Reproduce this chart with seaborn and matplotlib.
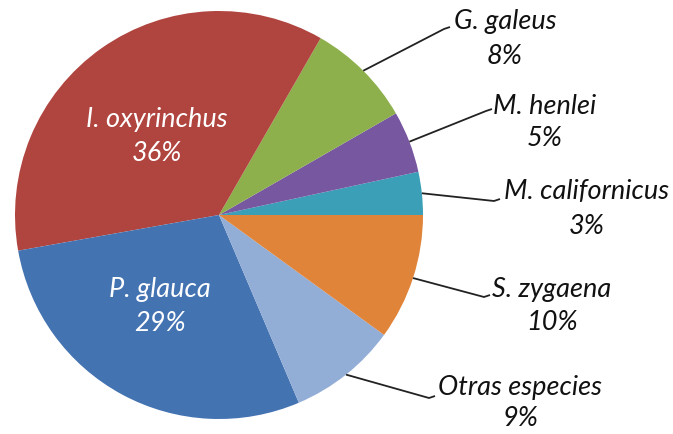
import numpy as np
import matplotlib
matplotlib.use('Agg')
import matplotlib.pyplot as plt
import seaborn as sns

sns.set_theme(style='white')
plt.rcParams['font.family'] = ['Lato', 'DejaVu Sans']

# data, counterclockwise from 3 o'clock (share in %)
species = ['M. californicus', 'M. henlei', 'G. galeus', 'I. oxyrinchus',
           'P. glauca', 'Otras especies', 'S. zygaena']
share = [3.4, 4.9, 8.4, 36.1, 28.6, 8.6, 10.0]
colors = ['#3B9FB8', '#7657A0', '#8DB04D', '#B0443F', '#4473B2', '#93AED6', '#E0843A']

# label layout (pixel coords, y down): name position, leader end, gap to % line
inside = {'I. oxyrinchus': (157, 120), 'P. glauca': (160, 290)}
outside = {
    'G. galeus': ((505, 22), (450, 28), 35),
    'M. henlei': ((545, 107), (492, 110), 32),
    'M. californicus': ((587, 192), (500, 200), 35),
    'S. zygaena': ((552, 290), (490, 296), 33),
    'Otras especies': ((520, 388), (435, 397), 31),
}

W, H = 673, 435
cx, cy, R = 219, 216, 204

fig = plt.figure(figsize=(W / 100, H / 100), dpi=100)
ax = fig.add_axes([0, 0, 1, 1])
wedges, _ = ax.pie(share, colors=colors, startangle=0, counterclock=False,
                   center=(cx, cy), radius=R, wedgeprops=dict(linewidth=0))
ax.set_xlim(0, W)
ax.set_ylim(H, 0)
ax.set_aspect('equal')
ax.axis('off')

fs = 19.5
for w, name, p in zip(wedges, species, share):
    if name in inside:
        x, y = inside[name]
        ax.text(x, y, name, ha='center', va='center', style='italic', fontsize=fs, color='white')
        ax.text(x, y + 34, f'{p:.0f}%', ha='center', va='center', style='italic', fontsize=fs, color='white')
    else:
        (tx, ty), (lx, ly), gap = outside[name]
        mid = np.deg2rad((w.theta1 + w.theta2) / 2)
        ex, ey = cx + R * np.cos(mid), cy + R * np.sin(mid)
        ax.plot([ex, lx - 6, lx], [ey, ly + 2, ly], color='#222222', lw=1.3,
                solid_capstyle='butt')
        ax.text(tx, ty, name, ha='center', va='center', style='italic', fontsize=fs, color='#111111')
        ax.text(tx, ty + gap, f'{p:.0f}%', ha='center', va='center', style='italic', fontsize=fs, color='#111111')

fig.savefig('out.png', dpi=100)
